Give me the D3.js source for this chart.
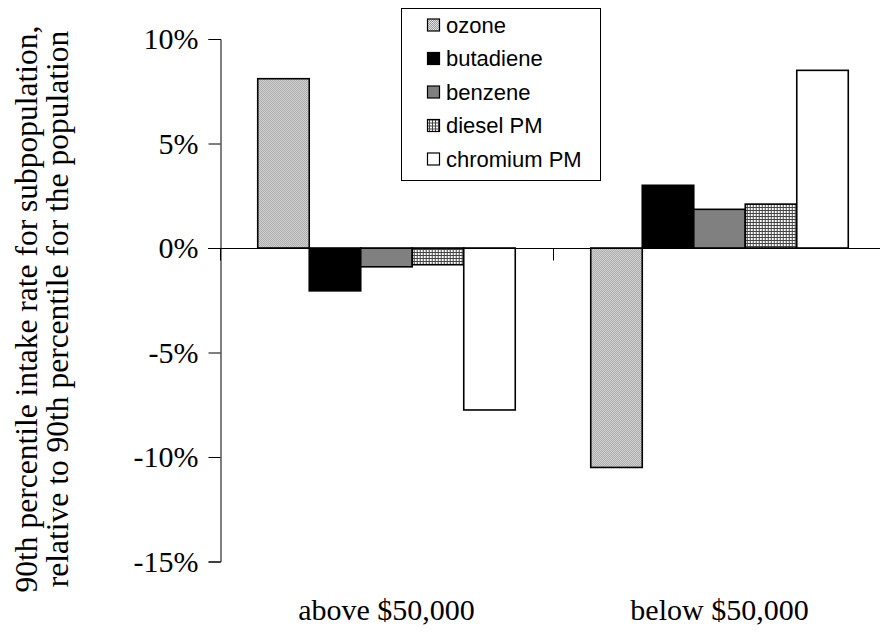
<!DOCTYPE html>
<html>
<head>
<meta charset="utf-8">
<script src="https://cdn.jsdelivr.net/npm/d3@7"></script>
<style>
  body { margin: 0; background: #fff; }
  svg { display: block; }
</style>
</head>
<body>
<div id="chart"></div>
<script>
let width = 880;
let height = 639;

let categories = ["above $50,000", "below $50,000"];
let pollutants = ["ozone", "butadiene", "benzene", "diesel PM", "chromium PM"];

// percent change of 90th percentile, one array per pollutant
let ozone = [8.1, -10.5];
let butadiene = [-2.05, 3.0];
let benzene = [-0.9, 1.85];
let dieselPM = [-0.8, 2.1];
let chromiumPM = [-7.75, 8.5];

let yTicks = [10, 5, 0, -5, -10, -15];

let seriesValues = [ozone, butadiene, benzene, dieselPM, chromiumPM];
let data = categories.map((c, ci) => ({
    category: c,
    values: pollutants.map((p, pi) => ({ key: p, value: seriesValues[pi][ci] }))
}));

let serif = '"Liberation Serif", "Times New Roman", serif';

let svg = d3.select('#chart')
    .append('svg')
    .attr('width', width)
    .attr('height', height);

// fill patterns
let defs = svg.append('defs');

let dots = defs.append('pattern')
    .attr('id', 'pat-ozone')
    .attr('patternUnits', 'userSpaceOnUse')
    .attr('width', 2).attr('height', 2);
dots.append('rect').attr('width', 2).attr('height', 2).attr('fill', '#e4e4e4');
dots.append('rect').attr('x', 0).attr('y', 0).attr('width', 1).attr('height', 1).attr('fill', '#9a9a9a');
dots.append('rect').attr('x', 1).attr('y', 1).attr('width', 1).attr('height', 1).attr('fill', '#9a9a9a');

let grid = defs.append('pattern')
    .attr('id', 'pat-diesel')
    .attr('patternUnits', 'userSpaceOnUse')
    .attr('width', 3).attr('height', 3);
grid.append('rect').attr('width', 3).attr('height', 3).attr('fill', '#fff');
grid.append('path')
    .attr('d', 'M0,0.5 H3 M0.5,0 V3')
    .attr('stroke', '#444')
    .attr('stroke-width', 1)
    .attr('shape-rendering', 'crispEdges');

let fills = {
    "ozone": "url(#pat-ozone)",
    "butadiene": "#000",
    "benzene": "#808080",
    "diesel PM": "url(#pat-diesel)",
    "chromium PM": "#fff"
};

let plotLeft = 220, plotRight = 886;
let plotTop = 39, plotBottom = 561.5;

let x0 = d3.scaleBand()
    .domain(categories)
    .range([plotLeft, plotRight])
    .paddingInner(0.2267)
    .paddingOuter(0.1133);

let x1 = d3.scaleBand()
    .domain(pollutants)
    .range([0, x0.bandwidth()]);

let y = d3.scaleLinear()
    .domain([-15, 10])
    .range([plotBottom, plotTop]);

// y axis
let yAxis = d3.axisLeft(y)
    .tickValues(yTicks)
    .tickSize(12)
    .tickPadding(10)
    .tickFormat(d => d + '%');

let yg = svg.append('g')
    .attr('transform', 'translate(' + (plotLeft + 0.5) + ',0)')
    .call(yAxis);
yg.selectAll('text')
    .style('font-family', serif)
    .style('font-size', '30px')
    .attr('fill', '#000');
yg.selectAll('path, line').attr('stroke', '#000');

// bars
let groups = svg.append('g')
    .selectAll('g')
    .data(data)
    .enter()
    .append('g')
    .attr('transform', d => 'translate(' + x0(d.category) + ',0)');

groups.selectAll('rect')
    .data(d => d.values)
    .enter()
    .append('rect')
    .attr('x', d => x1(d.key))
    .attr('width', x1.bandwidth())
    .attr('y', d => y(Math.max(0, d.value)))
    .attr('height', d => Math.abs(y(d.value) - y(0)))
    .attr('fill', d => fills[d.key])
    .attr('stroke', '#000')
    .attr('stroke-width', 1.6);

// x axis along zero with category boundary ticks
let zeroY = Math.round(y(0)) + 0.5;
svg.append('line')
    .attr('x1', plotLeft - 12).attr('x2', plotRight)
    .attr('y1', zeroY).attr('y2', zeroY)
    .attr('stroke', '#000');

let bounds = categories.map(c => x0(c) - x0.step() * x0.paddingOuter());
bounds.push(plotRight);
svg.append('g')
    .selectAll('line')
    .data(bounds)
    .enter()
    .append('line')
    .attr('x1', d => Math.round(d) + 0.5).attr('x2', d => Math.round(d) + 0.5)
    .attr('y1', zeroY).attr('y2', zeroY + 12)
    .attr('stroke', '#000');

svg.append('g')
    .selectAll('text')
    .data(categories)
    .enter()
    .append('text')
    .attr('x', d => x0(d) + x0.bandwidth() / 2)
    .attr('y', 620)
    .attr('text-anchor', 'middle')
    .style('font-family', serif)
    .style('font-size', '30px')
    .text(d => d);

// y title
let title = svg.append('text')
    .attr('transform', 'translate(0,309) rotate(-90)')
    .attr('text-anchor', 'middle')
    .style('font-family', serif)
    .style('font-size', '31.5px');
title.append('tspan').attr('x', 0).attr('y', 37)
    .text('90th percentile intake rate for subpopulation,');
title.append('tspan').attr('x', 0).attr('y', 68)
    .text('relative to 90th percentile for the population');

// legend
let legend = svg.append('g');
legend.append('rect')
    .attr('x', 401.5).attr('y', 8.5)
    .attr('width', 199).attr('height', 172)
    .attr('fill', '#fff')
    .attr('stroke', '#000');

let items = legend.selectAll('g.item')
    .data(pollutants)
    .enter()
    .append('g')
    .attr('class', 'item')
    .attr('transform', (d, i) => 'translate(0,' + (25 + i * 33.5) + ')');

items.append('rect')
    .attr('x', 427.5).attr('y', -6)
    .attr('width', 12).attr('height', 12)
    .attr('fill', d => fills[d])
    .attr('stroke', '#000')
    .attr('stroke-width', 1.2);

items.append('text')
    .attr('x', 446)
    .attr('y', 0)
    .attr('dy', '0.36em')
    .style('font-family', '"Liberation Sans", Arial, sans-serif')
    .style('font-size', '22px')
    .text(d => d);
</script>
</body>
</html>
